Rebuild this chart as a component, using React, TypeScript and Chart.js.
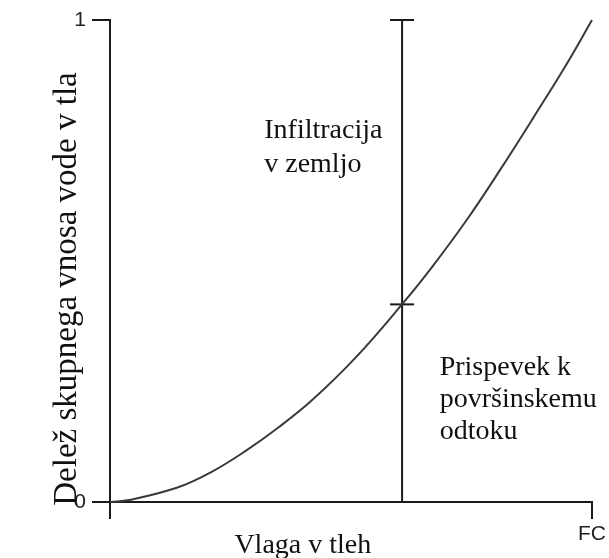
import React, { useEffect, useRef } from "react";
import { Chart, registerables } from "chart.js";

Chart.register(...registerables);

// Soil moisture (fraction of FC) vs share of total water input
const moisture = [0, 0.04, 0.14, 0.21, 0.28, 0.35, 0.42, 0.51, 0.61, 0.67, 0.74, 0.81, 0.88, 0.95, 1.0];
const share = [0, 0.004, 0.03, 0.062, 0.105, 0.155, 0.212, 0.3, 0.415, 0.49, 0.585, 0.69, 0.8, 0.913, 1.0];

const markerX = 0.606;
const markerYs = [0, 1];
const markerTicks = [1, 0.41];

const xTickLabels = ["", "FC"];
const yTickLabels = ["0", "1"];

const yTitle = "Delež skupnega vnosa vode v tla";
const xTitle = "Vlaga v tleh";
const infiltrationLines = ["Infiltracija", "v zemljo"];
const runoffLines = ["Prispevek k", "površinskemu", "odtoku"];

const SERIF = "'Liberation Serif', 'Times New Roman', serif";
const SANS = "'Liberation Sans', Arial, sans-serif";

const textPlugin = {
  id: "texts",
  afterDraw(chart: any) {
    const ctx = chart.ctx as CanvasRenderingContext2D;
    const xs = chart.scales.x;
    const ys = chart.scales.y;
    ctx.save();
    ctx.fillStyle = "#111";
    ctx.textBaseline = "alphabetic";

    // y title
    ctx.save();
    ctx.font = `33px ${SERIF}`;
    ctx.textAlign = "center";
    ctx.translate(76, (ys.top + ys.bottom) / 2 + 28);
    ctx.rotate(-Math.PI / 2);
    ctx.fillText(yTitle, 0, 0);
    ctx.restore();

    // x title
    ctx.font = `28px ${SERIF}`;
    ctx.textAlign = "center";
    ctx.fillText(xTitle, xs.getPixelForValue(0.4), 553);

    // annotations
    ctx.textAlign = "left";
    const infX = xs.getPixelForValue(0.32);
    infiltrationLines.forEach((t, i) => ctx.fillText(t, infX, 138 + i * 34));
    const runX = xs.getPixelForValue(0.684);
    runoffLines.forEach((t, i) => ctx.fillText(t, runX, 375 + i * 32));
    ctx.restore();
  },
};

export default function App() {
  const ref = useRef<HTMLCanvasElement>(null);
  useEffect(() => {
    if (!ref.current) return;
    const chart = new Chart(ref.current, {
      type: "scatter",
      data: {
        datasets: [
          {
            type: "line",
            data: moisture.map((x, i) => ({ x, y: share[i] })),
            borderColor: "#3a3a3a",
            borderWidth: 2,
            pointRadius: 0,
            tension: 0.4,
            fill: false,
            clip: false,
          } as any,
          {
            type: "line",
            data: markerYs.map((y) => ({ x: markerX, y })),
            borderColor: "#1a1a1a",
            borderWidth: 2,
            pointRadius: 0,
            fill: false,
            clip: false,
          } as any,
          {
            type: "scatter",
            data: markerTicks.map((y) => ({ x: markerX, y })),
            pointStyle: "line",
            pointRadius: 12,
            borderColor: "#1a1a1a",
            borderWidth: 2,
            clip: false,
          } as any,
        ],
      },
      options: {
        animation: false,
        responsive: false,
        events: [],
        layout: { padding: { top: 20, right: 17, left: 0, bottom: 0 } },
        plugins: { legend: { display: false }, tooltip: { enabled: false } },
        scales: {
          x: {
            type: "linear",
            min: 0,
            max: 1,
            afterFit: (s: any) => {
              s.height = 56;
            },
            border: { color: "#1a1a1a", width: 2 },
            grid: { drawOnChartArea: false, drawTicks: true, tickLength: 17, color: "#1a1a1a", lineWidth: 2 },
            ticks: {
              stepSize: 1,
              padding: 3,
              color: "#222",
              font: { family: SANS, size: 21 },
              maxRotation: 0,
              callback: (v: any) => xTickLabels[Math.round(Number(v))] ?? "",
            },
          },
          y: {
            type: "linear",
            min: 0,
            max: 1,
            afterFit: (s: any) => {
              s.width = 110;
            },
            border: { color: "#1a1a1a", width: 2 },
            grid: { drawOnChartArea: false, drawTicks: true, tickLength: 18, color: "#1a1a1a", lineWidth: 2 },
            ticks: {
              stepSize: 1,
              padding: 6,
              color: "#222",
              font: { family: SANS, size: 21 },
              callback: (v: any) => yTickLabels[Math.round(Number(v))] ?? "",
            },
          },
        },
      },
      plugins: [textPlugin],
    } as any);
    return () => chart.destroy();
  }, []);
  return (
    <div style={{ position: "fixed", left: 0, top: 0, width: 609, height: 558, background: "#fff" }}>
      <canvas ref={ref} width={609} height={558} style={{ display: "block" }} />
    </div>
  );
}
